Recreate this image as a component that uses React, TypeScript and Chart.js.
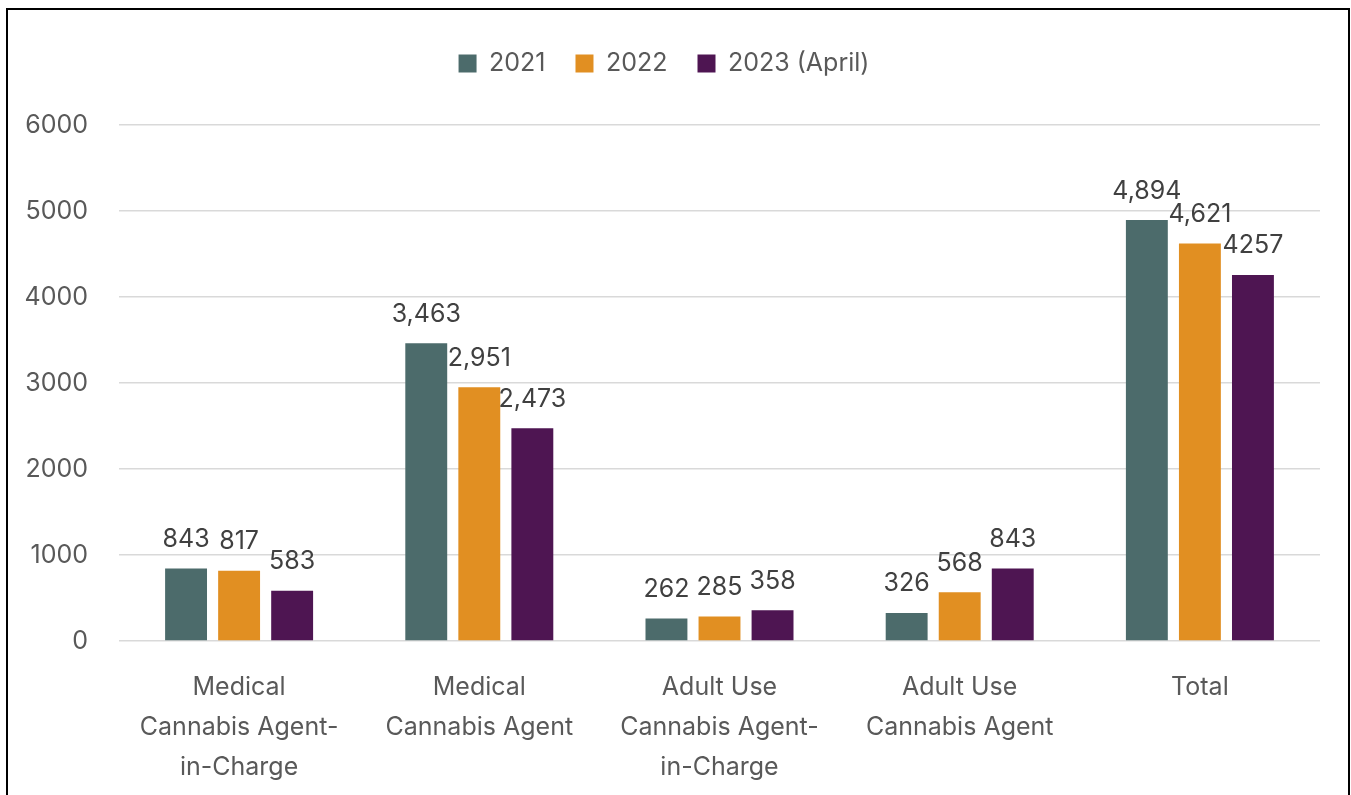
import React, { useEffect, useRef } from "react";
import { Chart, registerables } from "chart.js";

Chart.register(...registerables);

const categories: string[][] = [
  ["Medical", "Cannabis Agent-", "in-Charge"],
  ["Medical", "Cannabis Agent"],
  ["Adult Use", "Cannabis Agent-", "in-Charge"],
  ["Adult Use", "Cannabis Agent"],
  ["Total"],
];
const seriesNames = ["2021", "2022", "2023 (April)"];
const values2021 = [843, 3463, 262, 326, 4894];
const values2022 = [817, 2951, 285, 568, 4621];
const values2023 = [583, 2473, 358, 843, 4257];
const labels2021 = ["843", "3,463", "262", "326", "4,894"];
const labels2022 = ["817", "2,951", "285", "568", "4,621"];
const labels2023 = ["583", "2,473", "358", "843", "4257"];
const colors = ["#4C6B6B", "#E18F22", "#4E1552"];
const yTicks = [0, 1000, 2000, 3000, 4000, 5000, 6000];

const FONT = 'Inter, sans-serif';
const FS = 25;

const valueLabelPlugin = {
  id: "valueLabels",
  afterDatasetsDraw(chart: any) {
    const ctx = chart.ctx;
    const allLabels = [labels2021, labels2022, labels2023];
    ctx.save();
    ctx.font = `${FS}px ${FONT}`;
    ctx.fillStyle = "#404040";
    ctx.textAlign = "center";
    ctx.textBaseline = "middle";
    chart.data.datasets.forEach((ds: any, di: number) => {
      const meta = chart.getDatasetMeta(di);
      meta.data.forEach((bar: any, i: number) => {
        ctx.fillText(allLabels[di][i], bar.x, bar.y - 29);
      });
    });
    ctx.restore();
  },
};

const legendSpacer = {
  id: "legendSpacer",
  beforeInit(chart: any) {
    const orig = chart.legend.fit;
    chart.legend.fit = function () {
      orig.call(this);
      this.height += 39;
    };
  },
};

export default function App() {
  const ref = useRef<HTMLCanvasElement>(null);
  useEffect(() => {
    if (!ref.current) return;
    const chart = new Chart(ref.current, {
      type: "bar",
      data: {
        labels: categories,
        datasets: [values2021, values2022, values2023].map((v, i) => ({
          label: seriesNames[i],
          data: v,
          backgroundColor: colors[i],
          categoryPercentage: 0.6625,
          barPercentage: 0.79,
        })),
      },
      options: {
        responsive: false,
        animation: false,
        layout: { padding: { top: 11, right: 28, left: 0, bottom: 0 } },
        plugins: {
          legend: {
            position: "top",
            labels: {
              font: { family: FONT, size: FS },
              color: "#595959",
              boxWidth: 18,
              boxHeight: 18,
              padding: 30,
            },
          },
          tooltip: { enabled: false },
        },
        scales: {
          x: {
            grid: { display: false },
            border: { display: false },
            ticks: {
              font: { family: FONT, size: FS, lineHeight: 1.6 },
              color: "#595959",
              padding: 18,
              maxRotation: 0,
              autoSkip: false,
            },
            afterFit(axis: any) {
              axis.height = 159;
            },
          },
          y: {
            min: 0,
            max: 6000,
            afterBuildTicks(axis: any) {
              axis.ticks = yTicks.map((v) => ({ value: v }));
            },
            grid: { color: "#D9D9D9", lineWidth: 1.5, drawTicks: false },
            border: { display: false },
            ticks: {
              font: { family: FONT, size: FS },
              color: "#595959",
              padding: 31,
              callback: (v: any) => String(v),
            },
            afterFit(axis: any) {
              axis.width = 111;
            },
          },
        },
      },
      plugins: [valueLabelPlugin, legendSpacer],
    });
    return () => chart.destroy();
  }, []);
  return (
    <div
      style={{
        position: "fixed",
        left: 6,
        top: 8,
        width: 1340,
        height: 800,
        border: "2px solid #000",
        background: "#fff",
      }}
    >
      <canvas ref={ref} width={1340} height={790} style={{ display: "block" }} />
    </div>
  );
}
